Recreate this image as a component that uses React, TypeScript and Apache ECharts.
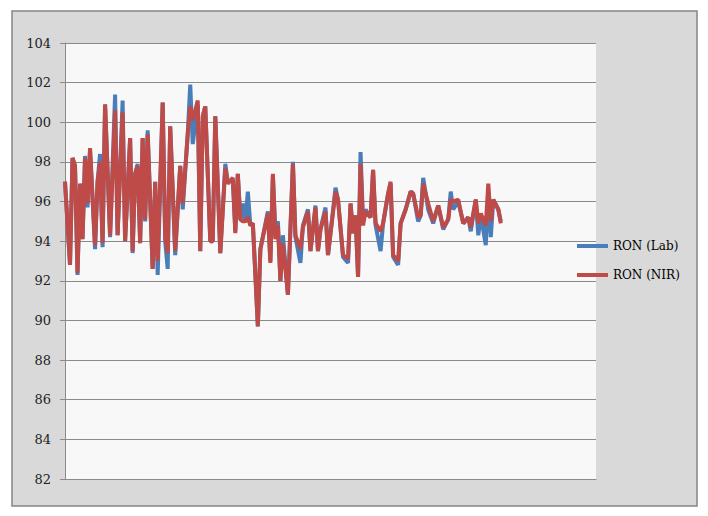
import React, { useEffect, useRef } from "react";
import * as echarts from "echarts";

// sample number (position along the run) for each measured point
const sampleNo = [
  0, 2, 3, 4, 5, 6, 7, 8, 9, 10, 12, 13, 14, 15, 16, 18, 20, 21, 23, 24,
  26, 27, 28, 29, 30, 31, 32, 33, 35, 36, 37, 39, 40, 41, 42, 44, 46, 47, 49, 50,
  51, 53, 54, 55, 56, 58, 59, 60, 62, 64, 65, 67, 68, 69, 70, 71, 72, 73, 74, 75,
  77, 78, 81, 82, 83, 84, 85, 86, 87, 89, 91, 92, 94, 95, 97, 98, 100, 101, 102, 104,
  105, 108, 109, 111, 113, 114, 115, 116, 117, 118, 119, 120, 122, 123, 124, 126, 127, 129, 130, 131,
  133, 134, 136, 138, 139, 141, 142, 143, 145, 147, 149, 151, 153, 154, 155, 157, 159, 161, 162, 164,
  165, 166, 168, 169, 170, 171, 173, 174,
];

const ronLab = [
  97.0, 92.8, 98.2, 97.8, 92.3, 96.9, 94.1, 98.3, 95.7, 98.6, 93.6, 97.0, 98.4, 93.7, 100.9, 94.2, 101.4, 94.3, 101.1, 94.0,
  99.2, 93.4, 97.4, 97.9, 93.9, 99.2, 95.0, 99.6, 92.6, 97.0, 92.3, 101.0, 94.0, 92.6, 99.8, 93.3, 97.8, 95.6, 99.4, 101.9,
  98.9, 100.9, 93.5, 100.3, 100.8, 94.0, 94.0, 100.3, 93.4, 97.9, 97.0, 97.1, 94.5, 97.4, 95.1, 95.9, 95.0, 96.5, 94.8, 94.9,
  89.7, 93.6, 95.5, 93.0, 97.3, 94.5, 95.0, 92.0, 94.3, 91.3, 98.0, 94.2, 92.9, 94.8, 95.6, 93.5, 95.8, 93.5, 94.6, 95.7,
  93.3, 96.7, 96.1, 93.2, 92.9, 95.9, 94.4, 95.3, 92.2, 98.5, 95.0, 95.6, 95.2, 97.6, 94.8, 93.5, 94.9, 96.4, 96.9, 93.2,
  92.8, 94.9, 95.6, 96.5, 96.4, 95.0, 95.3, 97.2, 95.6, 94.9, 95.8, 94.6, 95.1, 96.5, 95.6, 96.0, 94.9, 95.2, 94.5, 96.1,
  94.3, 95.3, 93.8, 96.5, 94.2, 96.1, 95.6, 95.0,
];

const ronNir = [
  97.0, 92.8, 98.2, 97.8, 92.4, 96.9, 94.1, 98.2, 95.9, 98.7, 93.8, 97.0, 98.0, 93.9, 100.9, 94.3, 100.6, 94.3, 100.5, 94.0,
  99.2, 93.5, 97.4, 97.8, 93.9, 99.2, 95.1, 99.4, 92.6, 97.0, 93.0, 101.0, 94.2, 93.4, 99.8, 93.5, 97.8, 95.9, 99.4, 100.8,
  100.1, 101.1, 93.5, 100.3, 100.8, 94.0, 94.0, 100.3, 93.4, 97.7, 96.9, 97.2, 94.4, 97.4, 95.1, 95.0, 95.0, 95.2, 94.8, 94.9,
  89.7, 93.6, 95.4, 92.9, 97.4, 94.1, 94.8, 92.0, 93.9, 91.3, 97.9, 94.3, 93.6, 94.7, 95.5, 93.5, 95.7, 93.5, 94.6, 95.5,
  93.3, 96.5, 96.1, 93.3, 93.1, 95.9, 94.4, 95.3, 92.2, 97.9, 94.8, 95.5, 95.2, 97.6, 94.9, 94.5, 94.9, 96.4, 97.0, 93.3,
  93.0, 94.9, 95.6, 96.5, 96.4, 95.2, 95.3, 96.9, 95.9, 95.0, 95.8, 94.7, 95.1, 96.1, 96.0, 96.1, 94.9, 95.2, 94.7, 96.1,
  94.9, 95.4, 94.8, 96.9, 95.0, 96.1, 95.6, 94.9,
];

const yTicks = { min: 82, max: 104, step: 2 };
const sampleRange = { min: 0, max: 212 };
const seriesNames = ["RON (Lab)", "RON (NIR)"];

export default function App() {
  const ref = useRef<HTMLDivElement>(null);

  useEffect(() => {
    if (!ref.current) return;
    const chart = echarts.init(ref.current, undefined, { renderer: "svg" });
    const labPts = sampleNo.map((s, i) => [s, ronLab[i]]);
    const nirPts = sampleNo.map((s, i) => [s, ronNir[i]]);
    const font = "'DejaVu Serif', 'Liberation Serif', serif";
    chart.setOption({
      animation: false,
      backgroundColor: "#ffffff",
      graphic: [
        {
          type: "rect",
          z: -10,
          silent: true,
          shape: { x: 12, y: 11, width: 685, height: 495 },
          style: { fill: "#d9d9d9", stroke: "#858585", lineWidth: 1.5 },
        },
      ],
      grid: {
        left: 65,
        top: 43,
        width: 531,
        height: 436,
        show: true,
        backgroundColor: "#f8f8f8",
        borderWidth: 0,
      },
      legend: {
        orient: "vertical",
        left: 572,
        top: 233,
        itemWidth: 31,
        itemHeight: 4,
        itemGap: 13,
        icon: "rect",
        textStyle: { fontFamily: font, fontSize: 12, color: "#000", lineHeight: 16 },
        data: seriesNames,
      },
      xAxis: {
        type: "value",
        min: sampleRange.min,
        max: sampleRange.max,
        axisLine: { show: true, onZero: false, lineStyle: { color: "#8a8a8a", width: 1 } },
        axisTick: { show: false },
        axisLabel: { show: false },
        splitLine: { show: false },
      },
      yAxis: {
        type: "value",
        min: yTicks.min,
        max: yTicks.max,
        interval: yTicks.step,
        axisLine: { show: true, lineStyle: { color: "#8a8a8a", width: 1 } },
        axisTick: { show: true, length: 5, lineStyle: { color: "#8a8a8a" } },
        axisLabel: { fontFamily: font, fontSize: 13, color: "#222", margin: 14 },
        splitLine: { show: true, lineStyle: { color: "#8a8a8a", width: 1 } },
      },
      series: [
        {
          name: seriesNames[0],
          type: "line",
          data: labPts,
          showSymbol: false,
          symbol: "none",
          lineStyle: { color: "#4a7ebb", width: 4 },
          itemStyle: { color: "#4a7ebb" },
          z: 2,
        },
        {
          name: seriesNames[1],
          type: "line",
          data: nirPts,
          showSymbol: false,
          symbol: "none",
          lineStyle: { color: "#be4b48", width: 4 },
          itemStyle: { color: "#be4b48" },
          z: 3,
        },
      ],
    });
    return () => chart.dispose();
  }, []);

  return (
    <div
      ref={ref}
      style={{ position: "fixed", left: 0, top: 0, width: 708, height: 516 }}
    />
  );
}
